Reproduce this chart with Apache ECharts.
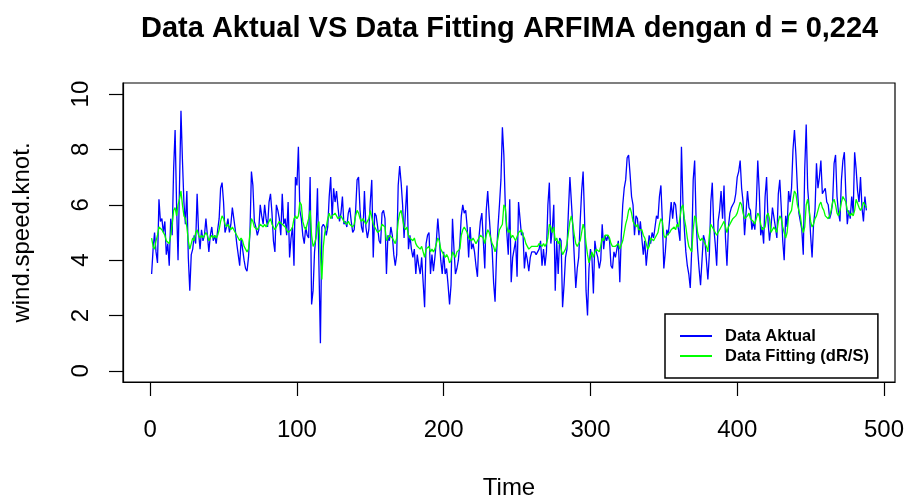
<!DOCTYPE html>
<html>
<head>
<meta charset="utf-8">
<title>Data Aktual VS Data Fitting ARFIMA</title>
<script src="https://cdn.jsdelivr.net/npm/echarts@6/dist/echarts.min.js"></script>
<style>
  html, body { margin: 0; padding: 0; background: #ffffff; }
  #chart { width: 906px; height: 497px; }
</style>
</head>
<body>
<div id="chart"></div>
<script>
// Wind speed (knot), observations 1..488
const dataAktual = [
  3.5, 4.4, 5.0, 4.3, 3.9, 6.2, 5.4, 5.5, 5.0, 5.4,
  4.2, 4.6, 3.8, 5.5, 4.9, 7.3, 8.7, 6.0, 4.0, 6.7,
  9.4, 7.6, 6.1, 5.3, 6.5, 4.1, 2.9, 4.2, 4.4, 4.9,
  4.6, 6.4, 5.0, 4.4, 5.1, 4.7, 4.9, 5.5, 4.9, 4.3,
  4.9, 5.2, 4.7, 4.9, 4.6, 5.1, 5.5, 6.6, 6.8, 6.1,
  5.0, 5.2, 5.5, 5.0, 5.3, 5.9, 5.5, 5.1, 4.6, 4.2,
  3.8, 4.8, 4.4, 4.0, 3.7, 3.6, 4.1, 5.0, 7.2, 6.7,
  5.4, 5.2, 4.9, 5.1, 6.0, 5.6, 5.3, 6.0, 5.5, 5.2,
  6.1, 6.4, 5.7, 4.7, 4.3, 6.0, 5.8, 5.5, 4.9, 6.4,
  5.3, 5.5, 4.9, 6.1, 4.1, 4.8, 5.2, 3.8, 7.0, 6.7,
  8.1, 5.8, 5.5, 4.9, 4.6, 5.2, 4.9, 4.8, 7.0, 2.4,
  2.9, 4.3, 4.9, 6.6, 3.8, 1.0, 5.2, 5.3, 5.2, 4.9,
  5.2, 6.3, 7.0, 5.5, 6.6, 6.1, 6.5, 5.9, 5.4, 5.7,
  6.3, 5.3, 5.4, 5.2, 5.7, 5.9, 5.4, 5.0, 5.1, 5.8,
  6.9, 7.0, 5.8, 5.2, 5.0, 6.5, 5.2, 4.8, 5.1, 6.1,
  6.9, 4.1, 5.7, 5.6, 5.2, 4.7, 4.6, 5.7, 5.8, 5.5,
  3.5, 4.9, 4.7, 5.2, 4.9, 4.2, 3.8, 4.2, 6.7, 7.4,
  6.8, 6.0, 4.8, 5.8, 6.7, 4.4, 4.9, 4.4, 4.1, 4.4,
  3.5, 4.2, 3.8, 3.5, 4.1, 3.2, 2.3, 4.6, 4.9, 5.0,
  3.5, 4.2, 3.6, 4.1, 4.7, 5.5, 4.8, 4.0, 3.5, 4.3,
  3.5, 3.7, 3.1, 2.4, 3.1, 5.5, 4.4, 3.5, 3.7, 4.0,
  4.6, 5.6, 6.0, 5.7, 5.8, 5.2, 4.1, 5.2, 4.4, 4.6,
  4.3, 3.8, 3.4, 4.8, 5.4, 5.7, 4.7, 3.7, 5.8, 6.5,
  5.6, 4.8, 4.4, 3.2, 2.5, 4.2, 5.2, 6.0, 6.9, 8.8,
  7.8, 5.9, 5.0, 4.2, 6.2, 3.2, 4.1, 4.4, 4.7, 3.4,
  6.1, 5.5, 4.9, 5.0, 3.7, 4.3, 4.0, 3.6, 4.1, 4.3,
  4.3, 4.3, 4.2, 4.2, 4.4, 4.7, 3.8, 4.4, 3.8, 4.3,
  6.0, 6.8, 4.6, 5.1, 6.0, 2.9, 4.7, 3.5, 4.8, 4.7,
  2.3, 3.1, 4.1, 4.4, 5.8, 7.0, 7.0, 5.2, 4.1, 3.0,
  3.7, 4.1, 5.4, 6.5, 7.2, 5.5, 2.9, 2.0, 3.7, 4.4,
  4.1, 2.8, 4.7, 4.3, 4.1, 3.7, 4.0, 5.3, 4.4, 4.9,
  4.7, 4.9, 4.7, 3.8, 3.7, 4.3, 4.1, 4.4, 4.7, 3.2,
  4.9, 6.0, 6.6, 6.9, 7.7, 7.8, 7.1, 6.3, 6.0, 4.9,
  5.6, 5.5, 4.9, 5.4, 4.8, 4.2, 4.7, 3.8, 4.4, 4.9,
  4.6, 5.0, 4.8, 5.2, 5.6, 5.5, 6.3, 6.7, 5.4, 3.7,
  4.3, 5.1, 4.9, 5.5, 6.1, 5.5, 6.1, 6.0, 5.4, 5.1,
  4.7, 8.1, 6.1, 5.1, 4.3, 3.8, 3.5, 3.0, 4.4, 6.9,
  7.6, 5.4, 4.4, 3.7, 3.1, 4.0, 4.9, 4.7, 4.0, 3.3,
  4.2, 6.1, 6.8, 5.2, 4.6, 3.8, 5.4, 5.8, 6.5, 5.5,
  6.7, 4.8, 3.8, 5.2, 5.7, 5.9, 6.0, 6.1, 6.4, 7.0,
  7.2, 7.6, 6.6, 6.1, 4.9, 5.7, 6.5, 5.9, 5.8, 5.1,
  5.4, 5.1, 6.0, 7.6, 6.5, 4.9, 5.2, 4.6, 6.3, 7.0,
  5.4, 4.7, 5.2, 5.9, 5.9, 5.2, 4.8, 6.4, 6.9, 5.9,
  4.7, 4.0, 5.6, 5.2, 6.5, 6.1, 6.6, 8.0, 8.7, 7.8,
  6.6, 5.7, 5.4, 5.1, 4.2, 7.3, 8.9, 6.6, 5.9, 4.9,
  4.1, 5.3, 5.8, 7.5, 6.6, 7.0, 7.6, 6.4, 6.5, 6.6,
  6.1, 6.0, 5.5, 5.7, 6.1, 7.5, 7.8, 6.3, 5.7, 5.4,
  6.9, 7.6, 7.9, 6.4, 5.3, 5.8, 5.5, 6.3, 5.7, 7.9,
  7.3, 6.5, 6.1, 7.0, 5.9, 5.4, 6.3, 5.8
];

// ARFIMA fitted values (d = 0,224), same observations
const dataFitting = [
  4.8, 4.5, 4.4, 4.7, 4.9, 5.2, 5.2, 5.1, 5.0, 4.9,
  4.7, 4.7, 4.6, 4.9, 5.3, 5.8, 5.9, 5.6, 6.0, 6.2,
  6.5, 6.0, 5.6, 5.5, 5.2, 4.7, 4.4, 4.6, 4.8, 4.7,
  5.0, 5.1, 4.9, 4.8, 4.9, 4.8, 4.9, 5.0, 4.9, 4.7,
  4.8, 4.9, 4.8, 4.9, 4.8, 4.9, 5.1, 5.4, 5.6, 5.5,
  5.3, 5.2, 5.3, 5.2, 5.1, 5.2, 5.1, 5.0, 4.9, 4.8,
  4.7, 4.8, 4.7, 4.5, 4.4, 4.3, 4.4, 5.0, 5.5, 5.4,
  5.2, 5.2, 5.1, 5.2, 5.3, 5.3, 5.2, 5.3, 5.2, 5.3,
  5.4, 5.5, 5.3, 5.2, 5.1, 5.2, 5.3, 5.4, 5.4, 5.3,
  5.3, 5.2, 5.2, 5.0, 5.0, 5.1, 5.2, 5.5, 5.6, 5.5,
  5.6, 6.1, 6.0, 5.4, 5.2, 5.1, 5.1, 5.5, 5.8, 4.9,
  4.5, 4.6, 4.8, 5.2, 5.4, 4.2, 3.3, 4.5, 5.0, 5.2,
  5.5, 5.7, 5.5, 5.6, 5.6, 5.7, 5.6, 5.5, 5.5, 5.6,
  5.5, 5.4, 5.4, 5.3, 5.4, 5.3, 5.3, 5.2, 5.3, 5.6,
  5.8, 5.7, 5.5, 5.4, 5.5, 5.4, 5.3, 5.3, 5.5, 5.8,
  5.8, 5.3, 5.2, 5.1, 5.0, 5.0, 5.1, 5.3, 5.3, 5.2,
  4.7, 4.8, 4.9, 4.9, 4.8, 4.7, 4.6, 4.8, 5.4, 5.7,
  5.8, 5.5, 5.2, 5.1, 5.2, 4.9, 4.8, 4.8, 4.7, 4.8,
  4.6, 4.5, 4.5, 4.4, 4.5, 4.3, 4.1, 4.4, 4.4, 4.5,
  4.3, 4.4, 4.3, 4.4, 4.6, 4.8, 4.7, 4.4, 4.3, 4.2,
  4.1, 4.2, 4.1, 3.9, 4.0, 4.3, 4.2, 4.1, 4.3, 4.3,
  4.4, 4.9, 5.1, 5.2, 5.1, 5.0, 4.8, 4.8, 4.7, 4.8,
  4.7, 4.6, 4.6, 4.8, 4.9, 4.9, 4.8, 4.6, 4.9, 5.1,
  5.0, 4.8, 4.6, 4.5, 4.3, 4.5, 4.8, 5.1, 5.1, 5.3,
  6.0, 5.9, 5.2, 5.0, 5.1, 4.8, 4.9, 4.8, 4.7, 4.7,
  5.0, 5.0, 5.1, 4.9, 4.8, 4.6, 4.5, 4.4, 4.4, 4.5,
  4.5, 4.5, 4.5, 4.5, 4.6, 4.6, 4.5, 4.6, 4.5, 4.6,
  4.8, 5.3, 5.2, 5.0, 5.2, 4.7, 4.8, 4.6, 4.7, 4.4,
  4.2, 4.3, 4.4, 4.6, 5.0, 5.4, 5.6, 5.3, 4.9, 4.6,
  4.5, 4.5, 4.7, 5.0, 5.3, 5.1, 4.6, 4.2, 3.9, 4.1,
  4.3, 4.1, 4.3, 4.4, 4.4, 4.3, 4.5, 4.8, 4.7, 4.9,
  4.9, 4.9, 4.8, 4.6, 4.5, 4.5, 4.5, 4.5, 4.6, 4.4,
  4.4, 4.7, 5.0, 5.3, 5.5, 5.8, 5.9, 5.7, 5.4, 5.3,
  5.2, 5.3, 5.1, 5.1, 5.1, 4.9, 4.8, 4.6, 4.4, 4.5,
  4.8, 4.8, 4.7, 4.8, 4.9, 5.0, 5.3, 5.5, 5.4, 4.9,
  4.8, 4.9, 4.9, 5.0, 5.1, 5.1, 5.2, 5.1, 5.3, 5.2,
  5.2, 5.9, 6.0, 5.5, 5.2, 4.8, 4.5, 4.4, 4.3, 5.1,
  5.6, 5.5, 5.0, 4.8, 4.7, 4.8, 4.7, 4.6, 4.5, 4.3,
  4.9, 5.3, 5.3, 5.1, 5.0, 4.9, 5.0, 5.1, 5.1, 5.3,
  5.4, 5.2, 5.0, 5.2, 5.3, 5.4, 5.5, 5.5, 5.6, 5.7,
  5.9, 6.1, 6.0, 5.7, 5.5, 5.5, 5.6, 5.7, 5.5, 5.5,
  5.4, 5.3, 5.5, 5.7, 5.6, 5.3, 5.1, 5.1, 5.2, 5.6,
  5.7, 5.5, 5.0, 5.1, 5.2, 5.1, 5.0, 5.4, 5.6, 5.5,
  5.2, 5.0, 4.8, 5.0, 5.6, 5.7, 5.8, 6.2, 6.5, 6.4,
  6.0, 5.8, 5.6, 5.2, 5.0, 5.2, 6.0, 6.2, 5.8, 5.4,
  5.2, 5.3, 5.5, 5.6, 5.8, 6.0, 6.1, 5.9, 5.8, 5.6,
  5.6, 5.5, 5.6, 5.8, 6.1, 6.2, 6.0, 5.7, 5.6, 5.8,
  6.1, 6.3, 6.3, 6.1, 5.8, 5.7, 5.6, 5.7, 5.6, 5.8,
  6.2, 6.2, 5.9, 5.8, 5.9, 6.1, 6.0, 5.9
];

// Axis ticks
const xTicks = [0, 100, 200, 300, 400, 500];
const yTicks = [0, 2, 4, 6, 8, 10];

const seriesNames = ['Data Aktual', 'Data Fitting (dR/S)'];

// pair each value with its time index (1-based)
const toPairs = arr => arr.map((v, i) => [i + 1, v]);

const FONT = '"Liberation Sans", Arial, Helvetica, sans-serif';
const AXIS_COLOR = '#000000';

const chart = echarts.init(document.getElementById('chart'), null, { renderer: 'canvas' });

chart.setOption({
  animation: false,
  backgroundColor: '#ffffff',
  title: {
    text: 'Data Aktual VS Data Fitting ARFIMA dengan d = 0,224',
    left: 141,
    top: 14,
    padding: 0,
    textStyle: {
      fontFamily: FONT,
      fontSize: 29,
      fontWeight: 'bold',
      color: '#000000',
      lineHeight: 29
    }
  },
  grid: {
    left: 123,
    right: 11,
    top: 83,
    bottom: 115,
    show: true,
    borderColor: AXIS_COLOR,
    borderWidth: 1.2,
    backgroundColor: 'transparent',
    containLabel: false,
    outerBoundsMode: 'none'
  },
  legend: {
    data: seriesNames,
    orient: 'vertical',
    left: 665,
    top: 314,
    padding: [12, 9, 12, 15],
    itemGap: 0,
    itemWidth: 32,
    itemHeight: 2,
    icon: 'rect',
    borderColor: '#000000',
    borderWidth: 1.5,
    backgroundColor: '#ffffff',
    textStyle: {
      fontFamily: FONT,
      fontSize: 16.5,
      fontWeight: 'bold',
      color: '#000000',
      lineHeight: 20,
      padding: [0, 0, 0, 8]
    }
  },
  xAxis: {
    type: 'value',
    min: -18.5,
    max: 507.5,
    name: 'Time',
    nameLocation: 'middle',
    nameGap: 94,
    nameTextStyle: { fontFamily: FONT, fontSize: 24, color: '#000000', lineHeight: 24 },
    axisLine: { show: true, onZero: false, lineStyle: { color: AXIS_COLOR, width: 1.2 } },
    axisTick: {
      show: true,
      inside: false,
      length: 14,
      customValues: xTicks,
      lineStyle: { color: AXIS_COLOR, width: 1.2 }
    },
    axisLabel: {
      show: true,
      margin: 36,
      customValues: xTicks,
      fontFamily: FONT,
      fontSize: 24,
      lineHeight: 24,
      color: '#000000'
    },
    splitLine: { show: false }
  },
  yAxis: {
    type: 'value',
    min: -0.4,
    max: 10.4,
    name: 'wind.speed.knot.',
    nameLocation: 'middle',
    nameRotate: 90,
    nameGap: 89,
    nameTextStyle: { fontFamily: FONT, fontSize: 24, color: '#000000', lineHeight: 24 },
    axisLine: { show: true, onZero: false, lineStyle: { color: AXIS_COLOR, width: 1.2 } },
    axisTick: {
      show: true,
      inside: false,
      length: 14,
      customValues: yTicks,
      lineStyle: { color: AXIS_COLOR, width: 1.2 }
    },
    axisLabel: {
      show: true,
      rotate: 90,
      margin: 30,
      customValues: yTicks,
      fontFamily: FONT,
      fontSize: 24,
      lineHeight: 24,
      color: '#000000'
    },
    splitLine: { show: false }
  },
  series: [
    {
      name: seriesNames[0],
      type: 'line',
      data: toPairs(dataAktual),
      symbol: 'none',
      lineStyle: { color: '#0000ff', width: 1.3 },
      itemStyle: { color: '#0000ff' },
      z: 2
    },
    {
      name: seriesNames[1],
      type: 'line',
      data: toPairs(dataFitting),
      symbol: 'none',
      lineStyle: { color: '#00ff00', width: 1.3 },
      itemStyle: { color: '#00ff00' },
      z: 3
    }
  ]
});
</script>
</body>
</html>
